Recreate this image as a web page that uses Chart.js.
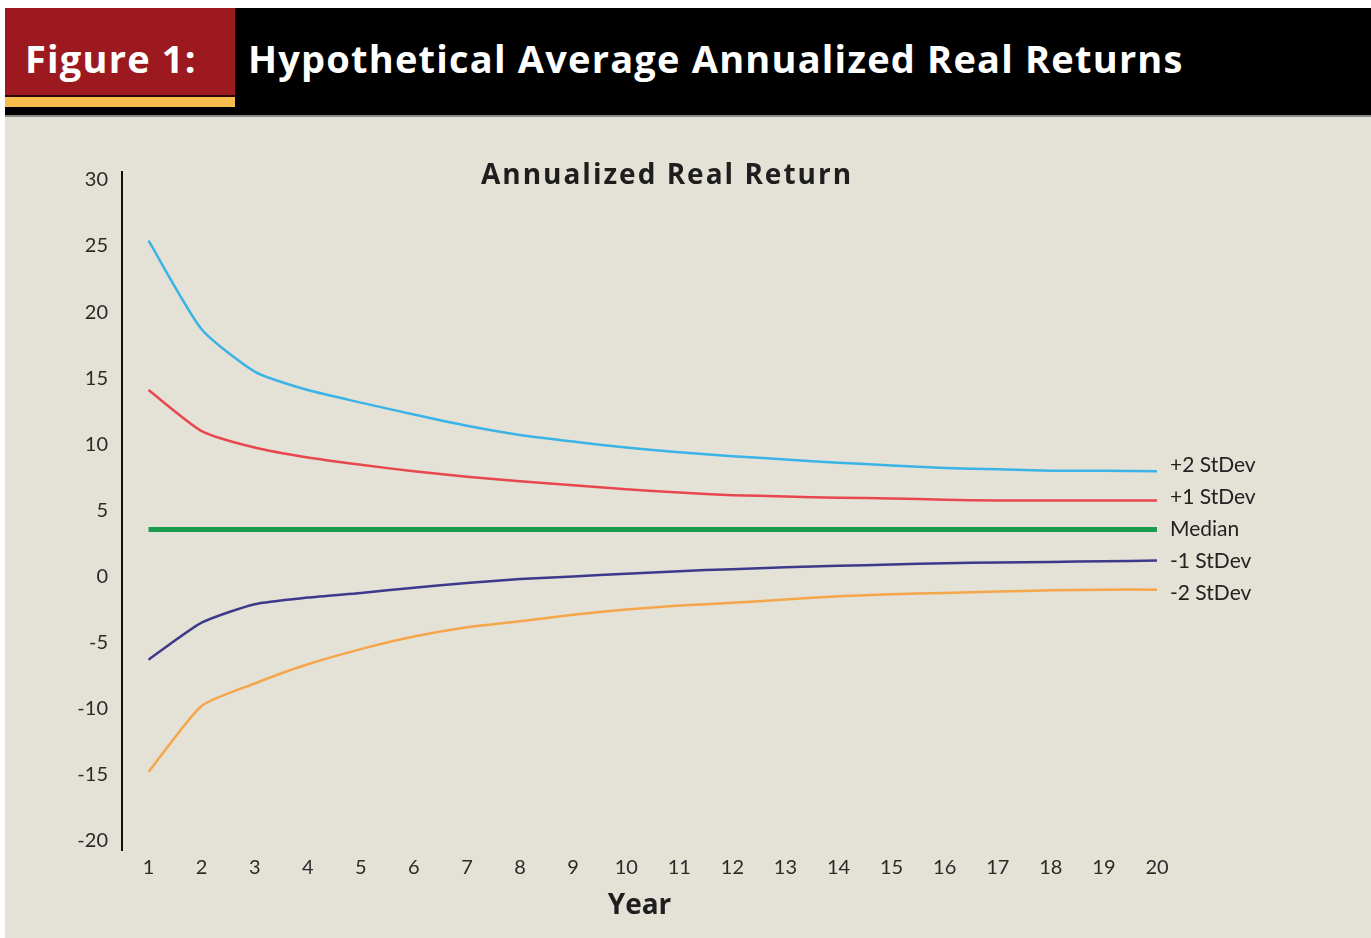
<!DOCTYPE html>
<html>
<head>
<meta charset="utf-8">
<script src="https://cdn.jsdelivr.net/npm/chart.js@4/dist/chart.umd.min.js"></script>
<style>
    html, body { margin: 0; padding: 0; background: #fff; }
    body { width: 1371px; height: 938px; position: relative; overflow: hidden; }
    .header { position: absolute; left: 5px; top: 8px; width: 1366px; height: 107px; background: #000; border-bottom: 2px solid #8a8a86; }
    .fig { position: absolute; left: 0; top: 0; width: 230px; height: 87px; background: #9c1a1f; border-bottom: 2px solid #2a0606; }
    .stripe { position: absolute; left: 0; top: 89px; width: 230px; height: 10px; background: #f6bd4d; }
    .header span { position: absolute; top: 26px; color: #fff; font: bold 38px "Open Sans", sans-serif; letter-spacing: 1.2px; line-height: 48px; white-space: nowrap; }
    .panel { position: absolute; left: 5px; top: 117px; width: 1366px; height: 821px; background: #e4e1d6; }
    canvas { position: absolute; left: 0; top: 118px; }
</style>
</head>
<body>
<div class="header">
    <div class="fig"></div>
    <div class="stripe"></div>
    <span style="left:20px">Figure 1:</span>
    <span style="left:243px">Hypothetical Average Annualized Real Returns</span>
</div>
<div class="panel"></div>
<canvas id="returnsChart" width="1371" height="820"></canvas>
<script>
// values (annualized real return, %)
const years = [1, 2, 3, 4, 5, 6, 7, 8, 9, 10, 11, 12, 13, 14, 15, 16, 17, 18, 19, 20];
const yTicks = [-20, -15, -10, -5, 0, 5, 10, 15, 20, 25, 30];
const plus2 = [25.4, 18.7, 15.5, 14.1, 13.15, 12.25, 11.4, 10.7, 10.2, 9.75, 9.4, 9.1, 8.85, 8.6, 8.4, 8.2, 8.1, 8.0, 8.0, 7.95];
const plus1 = [14.1, 11.0, 9.75, 9.0, 8.45, 7.95, 7.55, 7.2, 6.9, 6.6, 6.35, 6.15, 6.05, 5.95, 5.9, 5.8, 5.75, 5.75, 5.75, 5.75];
const median = [3.55, 3.55, 3.55, 3.55, 3.55, 3.55, 3.55, 3.55, 3.55, 3.55, 3.55, 3.55, 3.55, 3.55, 3.55, 3.55, 3.55, 3.55, 3.55, 3.55];
const minus1 = [-6.3, -3.5, -2.1, -1.6, -1.25, -0.85, -0.5, -0.2, 0.0, 0.2, 0.4, 0.55, 0.7, 0.8, 0.9, 1.0, 1.05, 1.1, 1.15, 1.2];
const minus2 = [-14.8, -9.8, -8.1, -6.65, -5.5, -4.55, -3.85, -3.4, -2.9, -2.5, -2.2, -2.0, -1.75, -1.5, -1.35, -1.25, -1.15, -1.05, -1.0, -1.0];
const seriesNames = ['+2 StDev', '+1 StDev', 'Median', '-1 StDev', '-2 StDev'];

function pts(arr) {
    return arr.map((v, i) => ({ x: years[i], y: v }));
}

// label at the right end of each line (spread a bit so they don't crowd) + chart title
const endLabels = {
    id: 'endLabels',
    afterDraw(chart) {
        const ctx = chart.ctx;
        const gap = 32;
        const mid = 2;
        const ends = chart.data.datasets.map((ds, i) => {
            const meta = chart.getDatasetMeta(i);
            return meta.data[meta.data.length - 1];
        });
        const ys = ends.map(p => p.y);
        for (let i = mid - 1; i >= 0; i--) ys[i] = Math.min(ys[i], ys[i + 1] - gap);
        for (let i = mid + 1; i < ys.length; i++) ys[i] = Math.max(ys[i], ys[i - 1] + gap);

        ctx.save();
        ctx.fillStyle = '#222';
        ctx.font = '21px Lato, sans-serif';
        ctx.textBaseline = 'middle';
        ctx.textAlign = 'left';
        chart.data.datasets.forEach((ds, i) => {
            ctx.fillText(ds.label, ends[i].x + 13, ys[i]);
        });
        ctx.font = 'bold 28px "Open Sans", sans-serif';
        ctx.letterSpacing = '2px';
        ctx.textAlign = 'center';
        ctx.fillStyle = '#1e1e1e';
        ctx.fillText('Annualized Real Return', 667, 58);
        ctx.restore();
    }
};

const colors = ['#3ab3e6', '#e8474d', '#1a9c4c', '#3d3a8c', '#f6a64a'];
const widths = [2.5, 2.5, 5, 2.5, 2.5];
const allSeries = [plus2, plus1, median, minus1, minus2];

Chart.defaults.font.family = 'Lato, sans-serif';
Chart.defaults.color = '#2a2a2a';

new Chart(document.getElementById('returnsChart').getContext('2d'), {
    type: 'line',
    data: {
        datasets: allSeries.map((arr, i) => ({
            label: seriesNames[i],
            data: pts(arr),
            borderColor: colors[i],
            borderWidth: widths[i],
            pointRadius: 0,
            tension: 0.2,
            fill: false
        }))
    },
    options: {
        responsive: false,
        animation: false,
        layout: { padding: { left: 0, right: 214, top: 54, bottom: 0 } },
        plugins: {
            legend: { display: false },
            tooltip: { enabled: false }
        },
        scales: {
            x: {
                type: 'linear',
                min: 0.5,
                max: 20,
                afterBuildTicks: s => { s.ticks = years.map(v => ({ value: v })); },
                afterFit: s => { s.height = 88; },
                grid: { display: false, drawTicks: false },
                border: { display: false },
                ticks: { padding: 6, font: { size: 20 }, maxRotation: 0, autoSkip: false },
                title: { display: true, text: 'Year', font: { size: 28, weight: 'bold', family: '"Open Sans", sans-serif' }, color: '#1e1e1e', padding: 15 }
            },
            y: {
                min: -20.7,
                max: 30.6,
                afterBuildTicks: s => { s.ticks = yTicks.map(v => ({ value: v })); },
                afterFit: s => { s.width = 122; },
                grid: { display: false, drawTicks: false },
                border: { display: true, color: '#111', width: 2 },
                ticks: { padding: 14, font: { size: 20 } }
            }
        }
    },
    plugins: [endLabels]
});
</script>
</body>
</html>
